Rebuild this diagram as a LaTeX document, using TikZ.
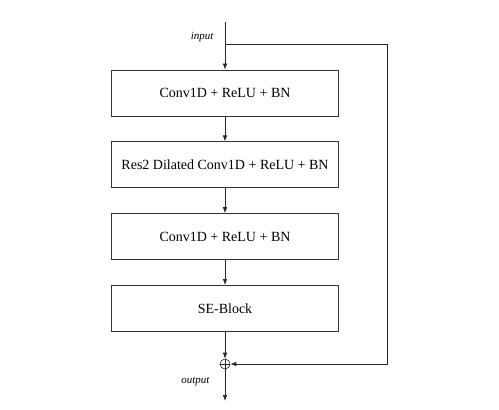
\documentclass[tikz,border=0pt]{standalone}
\usepackage{fontspec}
\setmainfont{Liberation Serif}
\usetikzlibrary{positioning}
\usetikzlibrary{arrows.meta}

\begin{document}
\begin{tikzpicture}[x=1pt,y=-1pt,
	layerbox/.style={draw=black!80,line width=0.8pt,minimum width=227pt,minimum height=46pt,inner sep=0pt,font=\fontsize{14}{16}\selectfont},
	flow/.style={-{Latex[length=6pt,width=4.5pt]},line width=0.7pt,color=black!85},
	tag/.style={font=\fontsize{11}{13}\selectfont\itshape}]
	\useasboundingbox (0,0) rectangle (499,410);
	% main chain of layers
	\node[layerbox] (conv1) at (225,93) {Conv1D + ReLU + BN};
	\node[layerbox,below=25pt of conv1] (res2) {Res2 Dilated Conv1D + ReLU + BN};
	\node[layerbox,below=25pt of res2] (conv2) {Conv1D + ReLU + BN};
	\node[layerbox,below=25pt of conv2] (se) {SE-Block};
	% sum node
	\node[circle,draw=black!85,line width=0.6pt,minimum size=10pt,inner sep=0pt] (sum) at (225,364) {};
	\draw[line width=0.6pt,color=black!85] (sum.north) -- (sum.south) (sum.west) -- (sum.east);
	% free ends and corners of the shortcut
	\coordinate (in) at (225,22);
	\coordinate (split) at (225,44);
	\coordinate (topright) at (387,44);
	\coordinate (botright) at (387,364);
	\coordinate (out) at (225,401);
	\draw[flow] (in) -- (conv1);
	\draw[flow] (conv1) -- (res2);
	\draw[flow] (res2) -- (conv2);
	\draw[flow] (conv2) -- (se);
	\draw[flow] (se) -- (sum);
	\draw[flow] (split) -- (topright) -- (botright) -- (sum);% shortcut on the right
	\draw[flow] (sum) -- (out);
	\node[tag,anchor=east] (inlabel) at (217,37) {input};
	\node[tag,anchor=east] (outlabel) at (213,382) {output};
\end{tikzpicture}
\end{document}
